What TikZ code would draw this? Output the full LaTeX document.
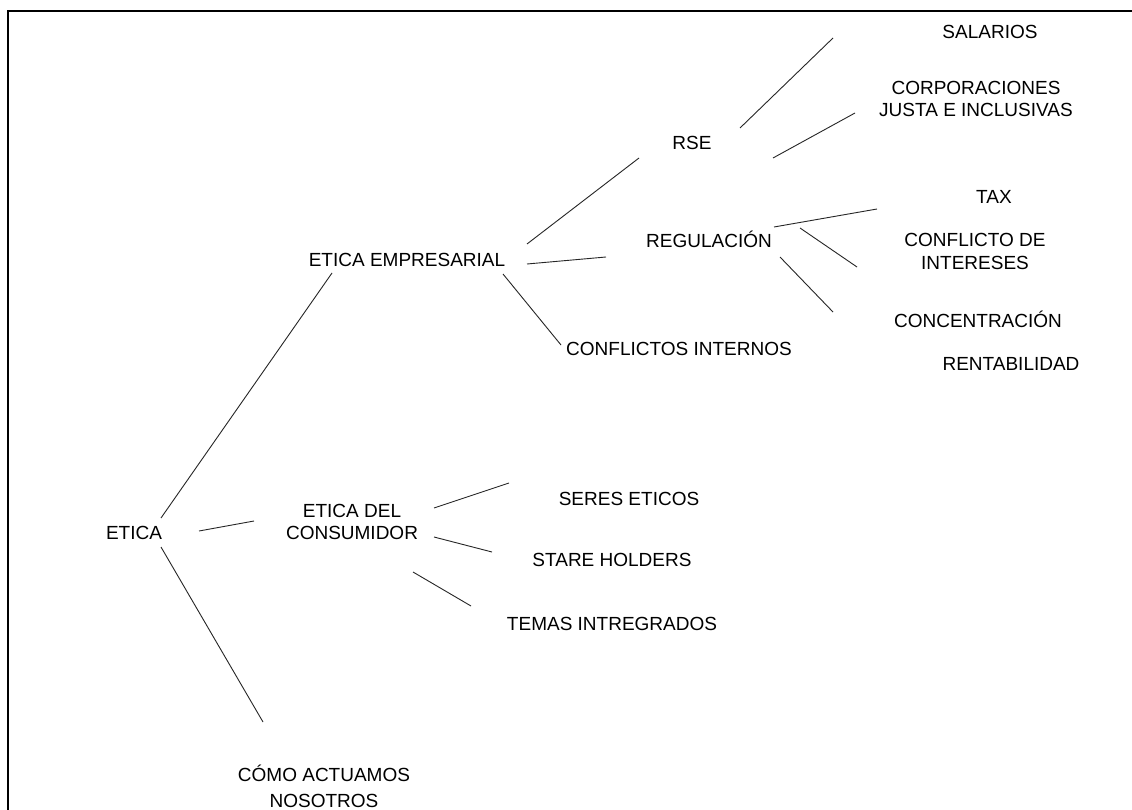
\documentclass[tikz,border=0pt]{standalone}
\usepackage{fontspec}
\setmainfont{Liberation Sans}
\begin{document}
\begin{tikzpicture}[x=1pt,y=-1pt,
  lbl/.style={inner sep=0pt,font=\fontsize{19}{22.5}\selectfont,text height=14pt,text depth=0pt},
  mlbl/.style={inner sep=0pt,font=\fontsize{19}{22.5}\selectfont,align=center},
  conn/.style={line width=0.9pt,black!85}]
\useasboundingbox (0,0) rectangle (1132,810);
\fill[white] (0,0) rectangle (1132,810);
\draw[line width=2.2pt] (8,810) -- (8,11) -- (1133,11);

\node[lbl]  (etica) at (134,532) {ETICA};
\node[lbl]  (ee)    at (407,260) {ETICA EMPRESARIAL};
\node[mlbl] (edc)   at (352,522) {ETICA DEL\\CONSUMIDOR};
\node[mlbl,font=\fontsize{19}{25.5}\selectfont] (como) at (324,786.5) {CÓMO ACTUAMOS\\NOSOTROS};
\node[lbl]  (rse)   at (692,143) {RSE};
\node[lbl]  (reg)   at (709,241) {REGULACIÓN};
\node[lbl]  (ci)    at (679,348) {CONFLICTOS INTERNOS};
\node[lbl]  (sal)   at (990,32) {SALARIOS};
\node[mlbl] (corp)  at (976,99) {CORPORACIONES\\JUSTA E INCLUSIVAS};
\node[lbl]  (tax)   at (994,197) {TAX};
\node[mlbl] (cdi)   at (975,251.5) {CONFLICTO DE\\INTERESES};
\node[lbl]  (conc)  at (978,320) {CONCENTRACIÓN};
\node[lbl]  (rent)  at (1011,363) {RENTABILIDAD};
\node[lbl]  (se)    at (629,498) {SERES ETICOS};
\node[lbl]  (sh)    at (612,559) {STARE HOLDERS};
\node[lbl]  (ti)    at (612,623) {TEMAS INTREGRADOS};

\newcommand\cnx[6]{\draw[conn] ([shift={(#2,#3)}]#1.center) -- ([shift={(#5,#6)}]#4.center);}
\cnx{etica}{27}{-14}{ee}{-75}{13}
\cnx{etica}{65}{-1}{edc}{-98}{-1}
\cnx{etica}{27}{15}{como}{-61}{-64.5}
\cnx{ee}{120}{-16}{rse}{-53}{15}
\cnx{ee}{120}{4}{reg}{-103}{16}
\cnx{ee}{96}{14}{ci}{-118}{-3}
\cnx{rse}{48}{-15}{sal}{-157}{6}
\cnx{rse}{81}{15}{corp}{-121}{14}
\cnx{reg}{65}{-14}{tax}{-117}{12}
\cnx{reg}{91}{-13}{cdi}{-118}{15.5}
\cnx{reg}{71}{16}{conc}{-145}{-8}
\cnx{edc}{82}{-14}{se}{-120}{-15}
\cnx{edc}{82}{15}{sh}{-120}{-7}
\cnx{edc}{61}{50}{ti}{-141}{-17}
\end{tikzpicture}
\end{document}
